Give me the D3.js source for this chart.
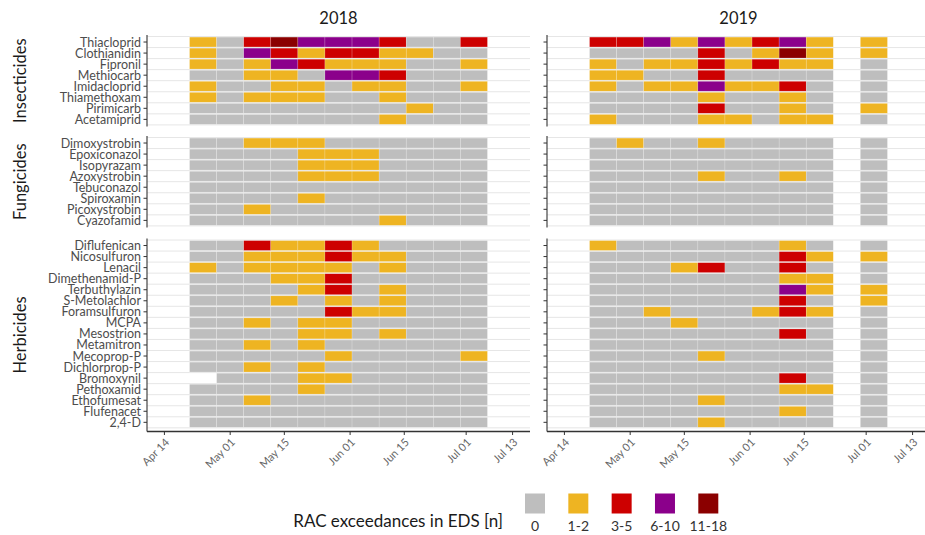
<!DOCTYPE html>
<html>
<head>
<meta charset="utf-8">
<script src="https://cdn.jsdelivr.net/npm/d3@7"></script>
<style>
  html, body { margin: 0; padding: 0; background: #fff; }
  svg { display: block; font-family: Lato, "Open Sans", sans-serif; }
</style>
</head>
<body>
<svg id="chart" width="925" height="535"></svg>
<script>
// ---------------- DATA ----------------
const years = ["2018", "2019"];
// sampling weeks (centre of each weekly tile), month-day
const weeks = ["04-24", "05-01", "05-08", "05-15", "05-22", "05-29", "06-05", "06-12", "06-19", "06-26", "07-03"];
const tickDates = ["04-14", "05-01", "05-15", "06-01", "06-15", "07-01", "07-13"];
const classLabels = ["0", "1-2", "3-5", "6-10", "11-18"];
const classColors = ["#bebebe", "#eeb422", "#cd0000", "#8b008b", "#8b0000"];
const groups = ["Insecticides", "Fungicides", "Herbicides"];

const insecticides = ["Thiacloprid", "Clothianidin", "Fipronil", "Methiocarb", "Imidacloprid", "Thiamethoxam", "Pirimicarb", "Acetamiprid"];
const fungicides = ["Dimoxystrobin", "Epoxiconazol", "Isopyrazam", "Azoxystrobin", "Tebuconazol", "Spiroxamin", "Picoxystrobin", "Cyazofamid"];
const herbicides = ["Diflufenican", "Nicosulfuron", "Lenacil", "Dimethenamid-P", "Terbuthylazin", "S-Metolachlor", "Foramsulfuron", "MCPA", "Mesostrion", "Metamitron", "Mecoprop-P", "Dichlorprop-P", "Bromoxynil", "Pethoxamid", "Ethofumesat", "Flufenacet", "2,4-D"];

// exceedance class index per week (0:"0", 1:"1-2", 2:"3-5", 3:"6-10", 4:"11-18"), null = no sample
const insecticides2018 = [
  [1,0,2,4,3,3,3,2,0,0,2],
  [1,0,3,2,1,2,2,1,1,0,0],
  [1,0,1,3,2,1,1,1,0,0,1],
  [0,0,1,1,0,3,3,2,0,0,0],
  [1,0,0,1,1,0,1,1,0,0,1],
  [1,0,1,1,1,0,0,1,0,0,0],
  [0,0,0,0,0,0,0,0,1,0,0],
  [0,0,0,0,0,0,0,1,0,0,0]
];
const insecticides2019 = [
  [2,2,3,1,3,1,2,3,1,null,1],
  [0,0,0,0,2,0,1,4,1,null,1],
  [1,0,1,1,2,1,2,1,1,null,0],
  [1,1,0,0,2,0,0,0,0,null,0],
  [1,0,1,1,3,1,1,2,0,null,0],
  [0,0,0,0,1,0,0,1,0,null,0],
  [0,0,0,0,2,0,0,1,0,null,1],
  [1,0,0,0,1,1,0,1,1,null,0]
];
const fungicides2018 = [
  [0,0,1,1,1,0,0,0,0,0,0],
  [0,0,0,0,1,1,1,0,0,0,0],
  [0,0,0,0,1,1,1,0,0,0,0],
  [0,0,0,0,1,1,1,0,0,0,0],
  [0,0,0,0,0,0,0,0,0,0,0],
  [0,0,0,0,1,0,0,0,0,0,0],
  [0,0,1,0,0,0,0,0,0,0,0],
  [0,0,0,0,0,0,0,1,0,0,0]
];
const fungicides2019 = [
  [0,1,0,0,1,0,0,0,0,null,0],
  [0,0,0,0,0,0,0,0,0,null,0],
  [0,0,0,0,0,0,0,0,0,null,0],
  [0,0,0,0,1,0,0,1,0,null,0],
  [0,0,0,0,0,0,0,0,0,null,0],
  [0,0,0,0,0,0,0,0,0,null,0],
  [0,0,0,0,0,0,0,0,0,null,0],
  [0,0,0,0,0,0,0,0,0,null,0]
];
const herbicides2018 = [
  [0,0,2,1,1,2,1,0,0,0,0],
  [0,0,1,1,1,2,1,1,0,0,0],
  [1,0,1,1,1,1,0,1,0,0,0],
  [0,0,0,1,1,2,0,0,0,0,0],
  [0,0,0,0,1,2,0,1,0,0,0],
  [0,0,0,1,0,1,0,1,0,0,0],
  [0,0,0,0,0,2,1,1,0,0,0],
  [0,0,1,0,1,1,0,0,0,0,0],
  [0,0,0,0,1,1,0,1,0,0,0],
  [0,0,1,0,1,0,0,0,0,0,0],
  [0,0,0,0,0,1,0,0,0,0,1],
  [0,0,1,0,1,0,0,0,0,0,0],
  [null,0,0,0,1,1,0,0,0,0,0],
  [0,0,0,0,1,0,0,0,0,0,0],
  [0,0,1,0,0,0,0,0,0,0,0],
  [0,0,0,0,0,0,0,0,0,0,0],
  [0,0,0,0,0,0,0,0,0,0,0]
];
const herbicides2019 = [
  [1,0,0,0,0,0,0,1,0,null,0],
  [0,0,0,0,0,0,0,2,1,null,1],
  [0,0,0,1,2,0,0,2,0,null,0],
  [0,0,0,0,0,0,0,1,1,null,0],
  [0,0,0,0,0,0,0,3,1,null,1],
  [0,0,0,0,0,0,0,2,0,null,1],
  [0,0,1,0,0,0,1,2,1,null,0],
  [0,0,0,1,0,0,0,0,0,null,0],
  [0,0,0,0,0,0,0,2,0,null,0],
  [0,0,0,0,0,0,0,0,0,null,0],
  [0,0,0,0,1,0,0,0,0,null,0],
  [0,0,0,0,0,0,0,0,0,null,0],
  [0,0,0,0,0,0,0,2,0,null,0],
  [0,0,0,0,0,0,0,1,1,null,0],
  [0,0,0,0,1,0,0,0,0,null,0],
  [0,0,0,0,0,0,0,1,0,null,0],
  [0,0,0,0,1,0,0,0,0,null,0]
];

// ---------------- LAYOUT ----------------
const svg = d3.select("#chart");
const W = 925, H = 535;
const panelX = { "2018": [147, 530], "2019": [547, 930] };
const rowH = 11.05;
const groupTop = [36.5, 137.5, 240];
const expandY = [1.5, 1.5, 1.5];
const xAxisY = 431.5;
const axisColor = "#333333";
const labelColor = "#4d4d4d";
const gridColor = "#e6e6e6";

const groupNames = [insecticides, fungicides, herbicides];
const groupData = {
  "2018": [insecticides2018, fungicides2018, herbicides2018],
  "2019": [insecticides2019, fungicides2019, herbicides2019]
};

const DAY = 864e5;
const dt = (year, md) => new Date(Date.UTC(+year, +md.slice(0, 2) - 1, +md.slice(3, 5)));

// scales
const xScales = {};
years.forEach(y => {
  const d0 = dt(y, tickDates[0]), d1 = dt(y, tickDates[tickDates.length - 1]);
  const pad = (d1 - d0) * 0.05;
  xScales[y] = d3.scaleUtc().domain([new Date(+d0 - pad), new Date(+d1 + pad)]).range(panelX[y]);
});
const yScales = groupNames.map((names, gi) =>
  d3.scaleBand().domain(names).range([groupTop[gi], groupTop[gi] + names.length * rowH]).padding(0)
);
const colorScale = d3.scaleOrdinal().domain(d3.range(classLabels.length)).range(classColors);

// clip for each year panel
const defs = svg.append("defs");
years.forEach(y => {
  defs.append("clipPath").attr("id", "clip" + y)
    .append("rect").attr("x", panelX[y][0]).attr("y", 0)
    .attr("width", panelX[y][1] - panelX[y][0]).attr("height", H);
});

// ---------------- PANELS ----------------
years.forEach(y => {
  const x = xScales[y];
  const [px0, px1] = panelX[y];
  groupNames.forEach((names, gi) => {
    const ys = yScales[gi];
    const g = svg.append("g").attr("clip-path", `url(#clip${y})`);
    // gridlines at row boundaries
    const bounds = names.map(n => ys(n)).concat([ys.range()[1]]);
    g.selectAll("line.grid").data(bounds).join("line")
      .attr("x1", px0).attr("x2", px1)
      .attr("y1", d => d).attr("y2", d => d)
      .attr("stroke", gridColor).attr("stroke-width", 1);
    // tiles
    const cells = [];
    groupData[y][gi].forEach((row, ri) => {
      row.forEach((v, wi) => {
        if (v !== null && v !== undefined) cells.push({ name: names[ri], week: weeks[wi], v });
      });
    });
    g.selectAll("rect.tile").data(cells).join("rect")
      .attr("x", d => x(new Date(+dt(y, d.week) - 3.5 * DAY)))
      .attr("width", d => x(new Date(+dt(y, d.week) + 3.5 * DAY)) - x(new Date(+dt(y, d.week) - 3.5 * DAY)))
      .attr("y", d => ys(d.name) + 0.6)
      .attr("height", ys.bandwidth() - 1.2)
      .attr("fill", d => colorScale(d.v))
      .attr("stroke", "rgba(255,255,255,0.35)")
      .attr("stroke-width", 0.5);

    // y axis
    const ya = svg.append("g").attr("transform", `translate(${px0},0)`);
    const top = ys.range()[0] - expandY[gi];
    const bot = gi === groupNames.length - 1 ? xAxisY : ys.range()[1] + expandY[gi];
    ya.append("line").attr("x1", 0).attr("x2", 0).attr("y1", top).attr("y2", bot)
      .attr("stroke", axisColor).attr("stroke-width", 1.1);
    ya.selectAll("line.tk").data(names).join("line")
      .attr("x1", -3.5).attr("x2", 0)
      .attr("y1", d => ys(d) + ys.bandwidth() / 2).attr("y2", d => ys(d) + ys.bandwidth() / 2)
      .attr("stroke", axisColor).attr("stroke-width", 1);
    if (y === years[0]) {
      ya.selectAll("text.tl").data(names).join("text")
        .attr("x", -6)
        .attr("y", d => ys(d) + ys.bandwidth() / 2)
        .attr("dy", "0.36em")
        .attr("text-anchor", "end")
        .attr("font-size", 12.5)
        .attr("fill", labelColor)
        .text(d => d);
    }
  });

  // x axis
  const xa = svg.append("g").attr("clip-path", `url(#clip${y})`);
  xa.append("line").attr("x1", px0).attr("x2", px1).attr("y1", xAxisY).attr("y2", xAxisY)
    .attr("stroke", axisColor).attr("stroke-width", 1.3);
  const ticks = tickDates.map(md => dt(y, md));
  const fmt = d3.utcFormat("%b %d");
  xa.selectAll("line.xt").data(ticks).join("line")
    .attr("x1", d => x(d)).attr("x2", d => x(d))
    .attr("y1", xAxisY).attr("y2", xAxisY + 3.5)
    .attr("stroke", axisColor).attr("stroke-width", 1);
  svg.append("g").selectAll("text.xl").data(ticks).join("text")
    .attr("transform", d => `translate(${x(d)},${xAxisY + 6}) rotate(-45)`)
    .attr("dy", "0.72em")
    .attr("text-anchor", "end")
    .attr("font-size", 11)
    .attr("fill", "#666666")
    .text(d => fmt(d));

  // strip title
  svg.append("text")
    .attr("x", (px0 + px1) / 2).attr("y", 24)
    .attr("text-anchor", "middle")
    .attr("font-size", 16.5)
    .attr("fill", "#1a1a1a")
    .text(y);
});

// group strips (left)
groupNames.forEach((names, gi) => {
  const ys = yScales[gi];
  const top = ys.range()[0] - expandY[gi];
  const bot = gi === groupNames.length - 1 ? xAxisY : ys.range()[1] + expandY[gi];
  const cy = (top + bot) / 2;
  svg.append("text")
    .attr("transform", `translate(20,${cy}) rotate(-90)`)
    .attr("dy", "0.35em")
    .attr("text-anchor", "middle")
    .attr("font-size", 16.5)
    .attr("fill", "#1a1a1a")
    .text(groups[gi]);
});

// ---------------- LEGEND ----------------
const legend = svg.append("g");
const keyX = d3.scalePoint().domain(classLabels).range([535, 708.3]);
legend.append("text")
  .attr("x", 503).attr("y", 521)
  .attr("dy", "0.35em")
  .attr("text-anchor", "end")
  .attr("font-size", 17)
  .attr("fill", "#1a1a1a")
  .text("RAC exceedances in EDS [n]");
legend.selectAll("rect.key").data(classLabels).join("rect")
  .attr("x", d => keyX(d) - 10).attr("y", 493.5)
  .attr("width", 20).attr("height", 20)
  .attr("fill", (d, i) => classColors[i]);
legend.selectAll("text.kl").data(classLabels).join("text")
  .attr("x", d => keyX(d)).attr("y", 531)
  .attr("text-anchor", "middle")
  .attr("font-size", 14)
  .attr("fill", "#333333")
  .text(d => d);
</script>
</body>
</html>
